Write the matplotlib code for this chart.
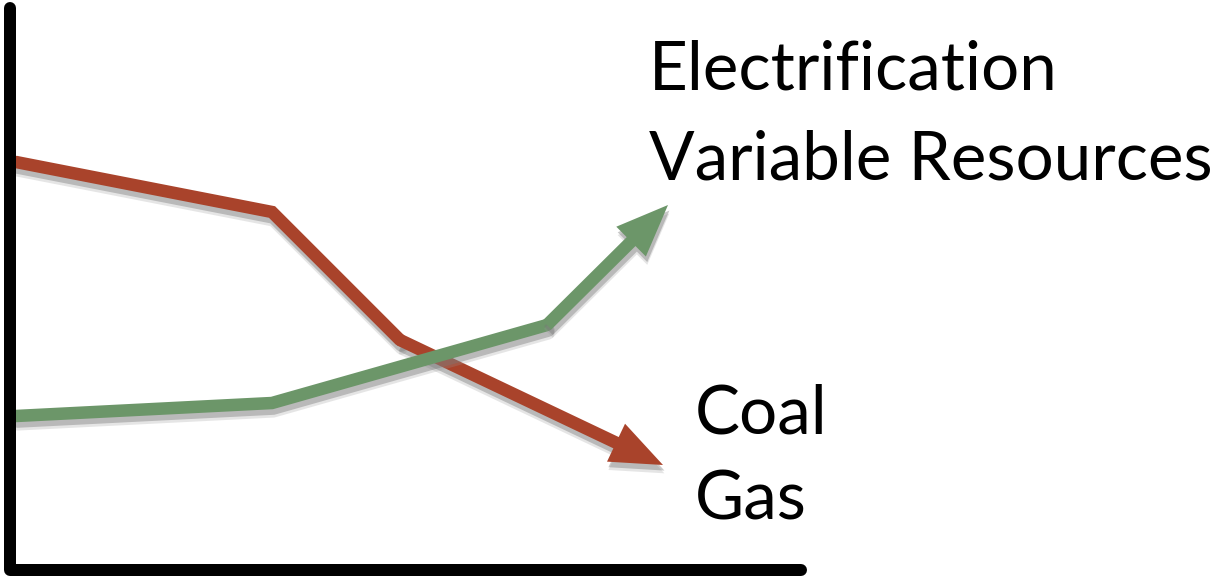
import matplotlib
matplotlib.use("Agg")
import matplotlib.pyplot as plt
import matplotlib.patheffects as pe

# schematic trend lines (x: position along time axis, y: level, screen-down units)
fossil_x = [16, 272, 400]
fossil_y = [162, 212, 340]
fossil_tip = (663, 465)

clean_x = [16, 272, 547]
clean_y = [416, 403, 325]
clean_tip = (668, 205)

frame_x = [10, 10, 801]
frame_y = [8, 570, 570]

up_labels = ["Electrification", "Variable Resources"]
down_labels = ["Coal", "Gas"]

red = "#A9432B"
green = "#6C9669"

fig = plt.figure(figsize=(12.18, 5.78), dpi=100)
ax = fig.add_axes([0, 0, 1, 1])
ax.set_xlim(0, 1218)
ax.set_ylim(578, 0)
ax.axis("off")

shadow_line = [pe.SimpleLineShadow(offset=(1, -6), shadow_color="#999999", alpha=0.25),
               pe.SimpleLineShadow(offset=(1, -4), shadow_color="#777777", alpha=0.4),
               pe.Normal()]
shadow_patch = [pe.SimplePatchShadow(offset=(1, -6), shadow_rgbFace="#999999", alpha=0.25),
                pe.SimplePatchShadow(offset=(1, -4), shadow_rgbFace="#777777", alpha=0.4),
                pe.Normal()]


def trend(xs, ys, tip, color, z):
    ax.plot(xs, ys, color=color, lw=12.5 * 72 / 100, solid_joinstyle="miter",
            solid_capstyle="round", zorder=z, path_effects=shadow_line)
    ax.arrow(xs[-1], ys[-1], tip[0] - xs[-1], tip[1] - ys[-1], width=12.5,
             head_width=42, head_length=52, length_includes_head=True,
             color=color, lw=0, zorder=z, path_effects=shadow_patch)


trend(fossil_x, fossil_y, fossil_tip, red, 3)
trend(clean_x, clean_y, clean_tip, green, 4)

ax.plot(frame_x, frame_y, color="black", lw=12 * 72 / 100, solid_capstyle="round",
        solid_joinstyle="round", zorder=5)

font = dict(family="Lato", fontsize=48.5, color="black", va="baseline", ha="left")
ax.text(649, 90, up_labels[0], **font)
ax.text(649, 180, up_labels[1], **font)
ax.text(695, 433, down_labels[0], **font)
ax.text(695, 520, down_labels[1], **font)

fig.savefig("out.png", dpi=100, facecolor="white")
